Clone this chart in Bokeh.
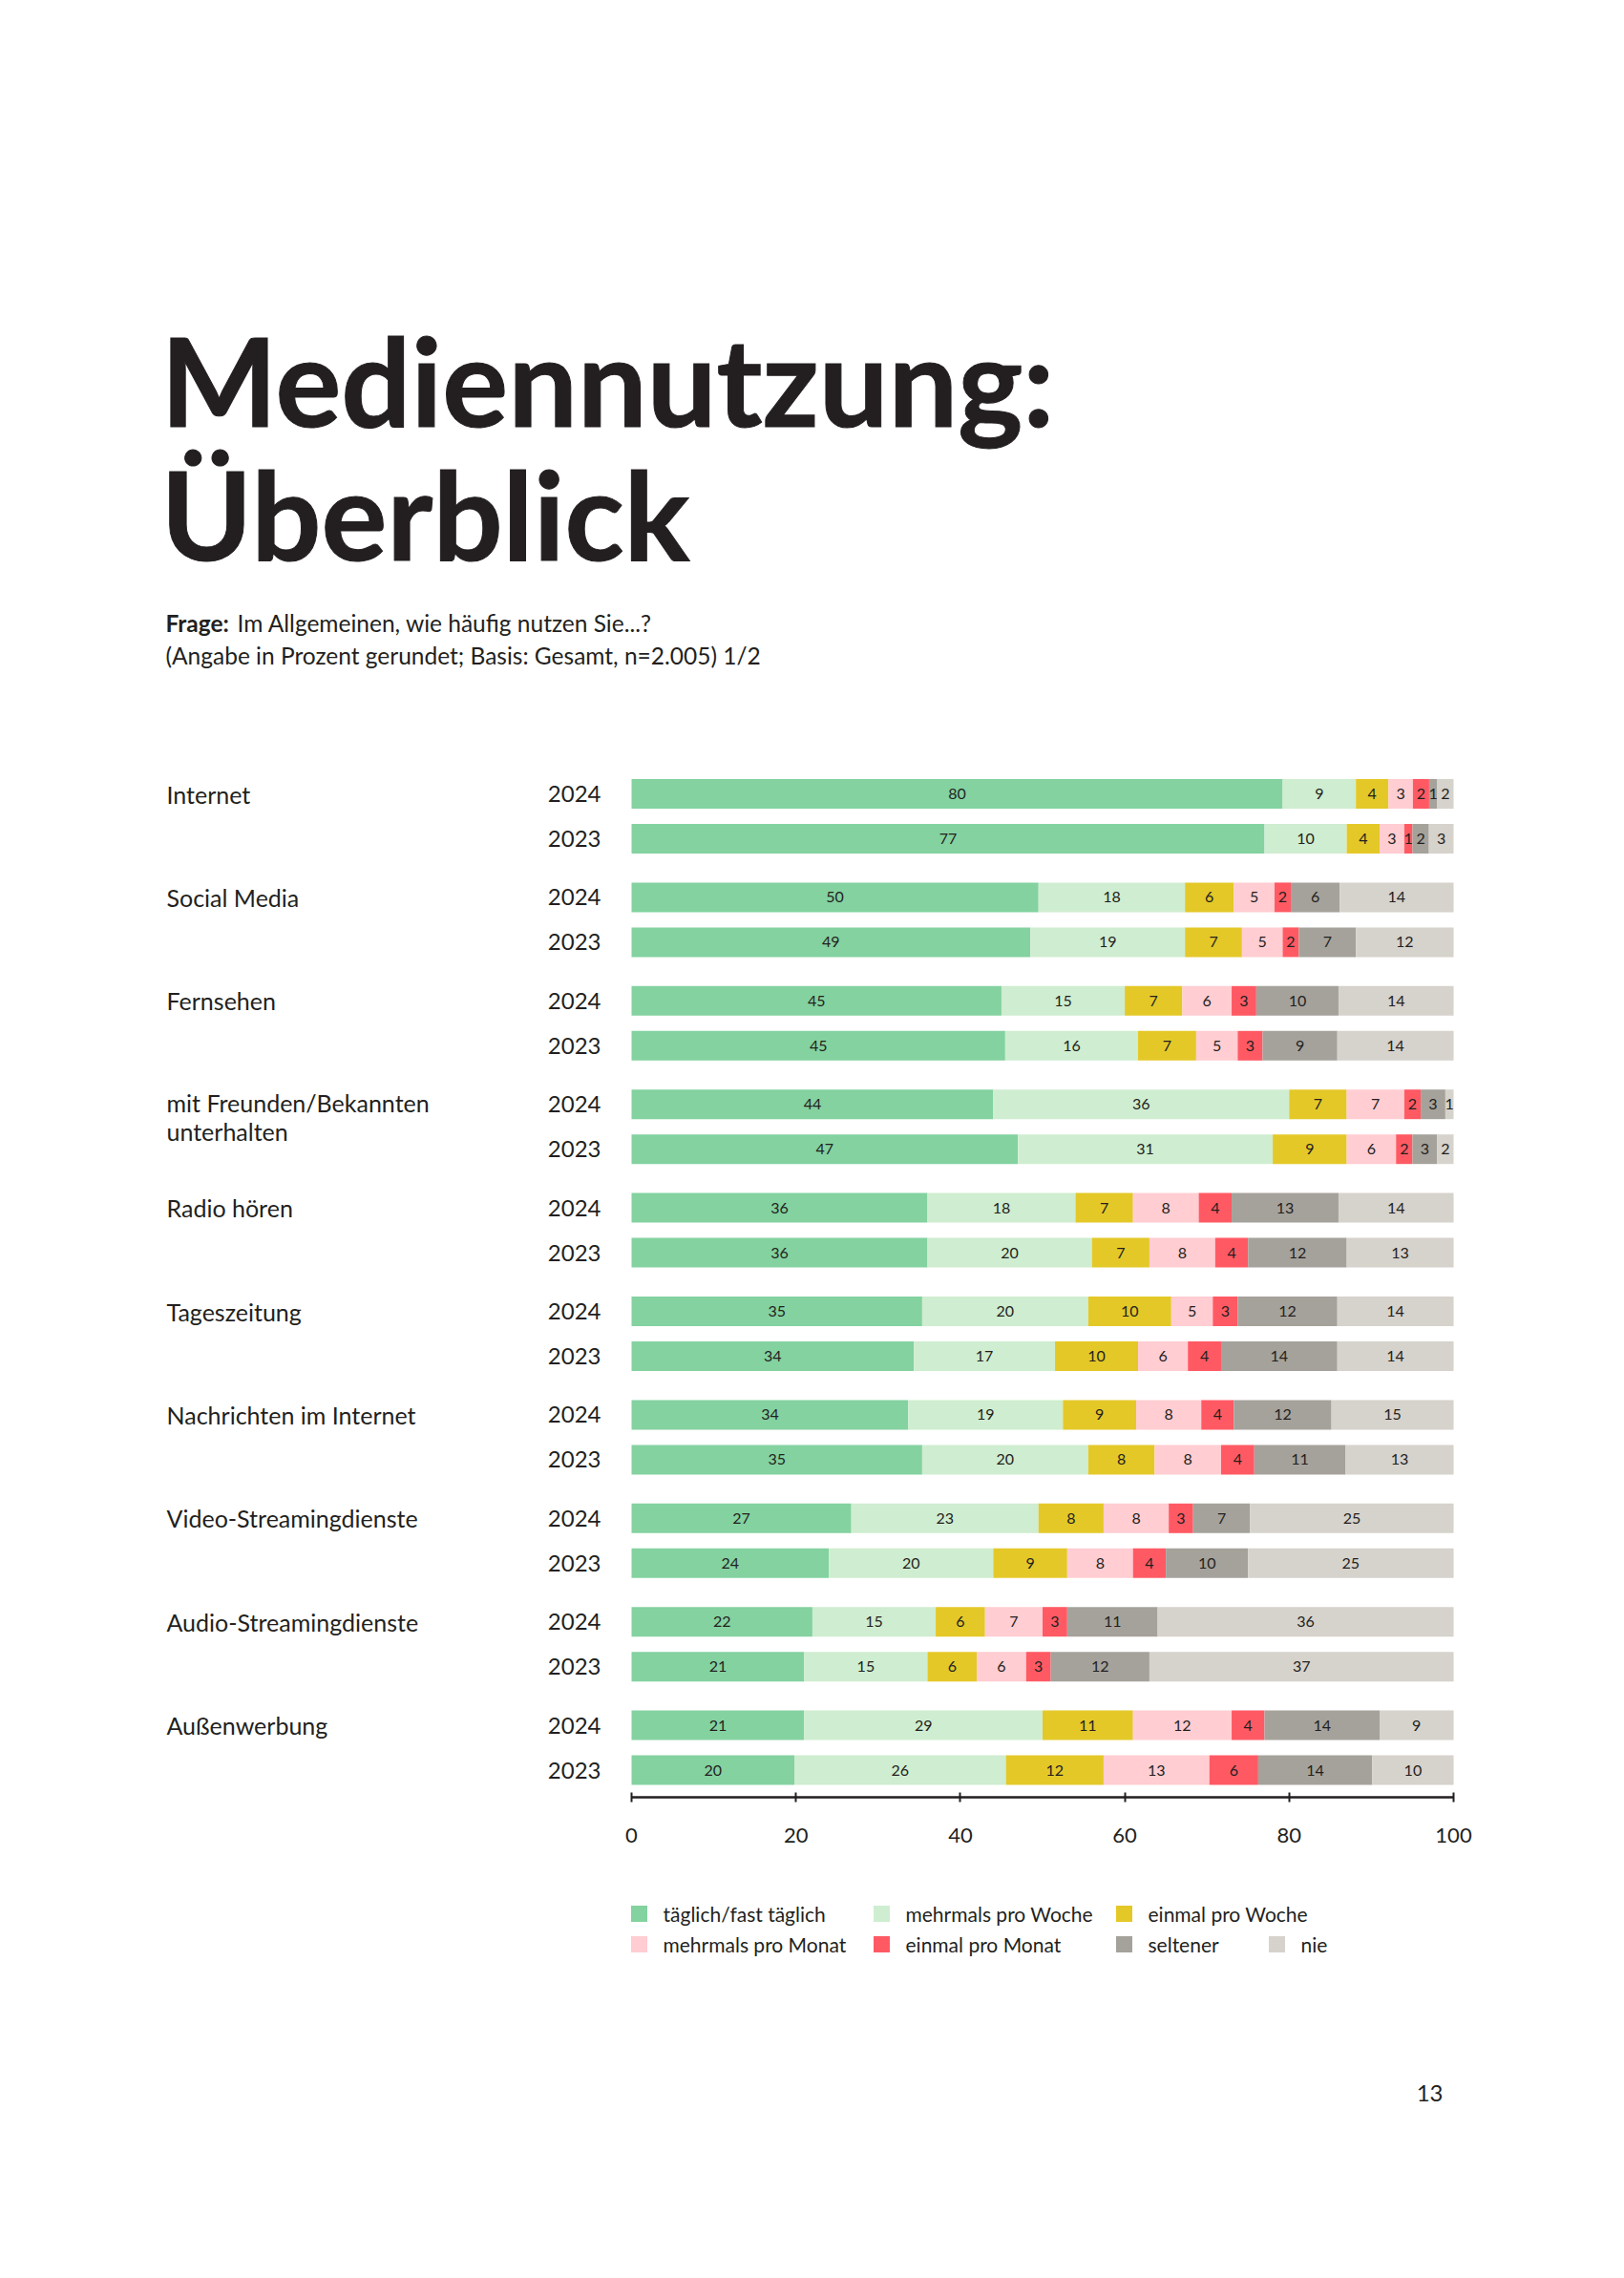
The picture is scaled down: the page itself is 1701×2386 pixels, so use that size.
from bokeh.plotting import figure
from bokeh.models import ColumnDataSource, Range1d, LinearAxis, FixedTicker
from bokeh.core.properties import value
from bokeh.embed import file_html
from bokeh.resources import INLINE

# ---------------- data ----------------
categories = ["Internet", "Social Media", "Fernsehen", "mit Freunden/Bekannten\nunterhalten",
              "Radio hören", "Tageszeitung", "Nachrichten im Internet",
              "Video-Streamingdienste", "Audio-Streamingdienste", "Außenwerbung"]
years = ["2024", "2023"]
series_names = ["täglich/fast täglich", "mehrmals pro Woche", "einmal pro Woche",
                "mehrmals pro Monat", "einmal pro Monat", "seltener", "nie"]
series_colors = ["#83D2A0", "#CFEDD0", "#E4C828", "#FFCDD2", "#FF5A64", "#A5A29B", "#D6D2CC"]

# values per series, ordered category by category, 2024 then 2023
taeglich       = [80, 77, 50, 49, 45, 45, 44, 47, 36, 36, 35, 34, 34, 35, 27, 24, 22, 21, 21, 20]
mehrmals_woche = [9, 10, 18, 19, 15, 16, 36, 31, 18, 20, 20, 17, 19, 20, 23, 20, 15, 15, 29, 26]
einmal_woche   = [4, 4, 6, 7, 7, 7, 7, 9, 7, 7, 10, 10, 9, 8, 8, 9, 6, 6, 11, 12]
mehrmals_monat = [3, 3, 5, 5, 6, 5, 7, 6, 8, 8, 5, 6, 8, 8, 8, 8, 7, 6, 12, 13]
einmal_monat   = [2, 1, 2, 2, 3, 3, 2, 2, 4, 4, 3, 4, 4, 4, 3, 4, 3, 3, 4, 6]
seltener       = [1, 2, 6, 7, 10, 9, 3, 3, 13, 12, 12, 14, 12, 11, 7, 10, 11, 12, 14, 14]
nie            = [2, 3, 14, 12, 14, 14, 1, 2, 14, 13, 14, 14, 15, 13, 25, 25, 36, 37, 9, 10]
series_values = [taeglich, mehrmals_woche, einmal_woche, mehrmals_monat, einmal_monat, seltener, nie]

x_ticks = [0, 20, 40, 60, 80, 100]

# ---------------- layout helpers (page pixels -> data) ----------------
FW, FH = 1685, 2300
X0_FIG = 661          # figure pixel of x = 0
PX_PER_UNIT = 8.61    # pixels per percent


def fx(page_x):
    return (page_x - 8 - X0_FIG) / PX_PER_UNIT


def fy(page_y):
    return page_y - 8


ROW0 = 839.0      # page y of first 2024 bar centre
GROUP_GAP = 108.4
YEAR_GAP = 47.0
BAR_H = 31

TXT = "#231f20"
FONT = value("Lato")

p = figure(frame_width=FW, frame_height=FH, output_backend="svg", toolbar_location=None,
           x_range=Range1d(fx(8), fx(8 + FW)), y_range=Range1d(FH, 0),
           x_axis_location=None, y_axis_location=None, min_border=0,
           outline_line_color=None, background_fill_color="white", border_fill_color="white")
p.xgrid.visible = False
p.ygrid.visible = False

# row positions
row_y = []
row_cat = []
row_year = []
for i, c in enumerate(categories):
    for j, yr in enumerate(years):
        row_y.append(fy(ROW0 + i * GROUP_GAP + j * YEAR_GAP))
        row_cat.append(c)
        row_year.append(yr)

n = len(row_y)
totals = [sum(s[k] for s in series_values) for k in range(n)]
left = [0.0] * n
lab_x, lab_y, lab_t = [], [], []
for name, col, vals in zip(series_names, series_colors, series_values):
    widths = [vals[k] * 100.0 / totals[k] for k in range(n)]
    right = [left[k] + widths[k] for k in range(n)]
    src = ColumnDataSource(dict(y=row_y, left=left, right=right))
    p.hbar(y="y", left="left", right="right", height=BAR_H, source=src,
           fill_color=col, line_color=None)
    for k in range(n):
        lab_x.append((left[k] + right[k]) / 2)
        lab_y.append(row_y[k])
        lab_t.append(str(vals[k]))
    left = right

p.text(x=lab_x, y=lab_y, text=lab_t, text_font=FONT, text_font_size="16px",
       text_color=TXT, text_align="center", text_baseline="middle")

# year labels
p.text(x=[fx(637)] * n, y=row_y, text=row_year, text_font=FONT, text_font_size="24px",
       text_color=TXT, text_align="right", text_baseline="middle")

# category labels
cx, cy, ct = [], [], []
for i, c in enumerate(categories):
    for li, line in enumerate(c.split("\n")):
        cx.append(fx(182))
        cy.append(row_y[2 * i] - 2 + li * 30 if "\n" in c else row_y[2 * i])
        ct.append(line)
p.text(x=cx, y=cy, text=ct, text_font=FONT, text_font_size="25px",
       text_color=TXT, text_align="left", text_baseline="middle")

# axis
ax = LinearAxis(fixed_location=fy(1890), bounds=(0, 100), ticker=FixedTicker(ticks=x_ticks),
                axis_line_width=2.5, axis_line_color=TXT, major_tick_line_color=TXT,
                major_tick_line_width=2, major_tick_in=5, major_tick_out=5,
                minor_tick_line_color=None, major_label_text_font="Lato",
                major_label_text_font_size="22px", major_label_text_color=TXT,
                major_label_standoff=27)
p.add_layout(ax, "below")

# title
p.text(x=[fx(176), fx(176)], y=[fy(404), fy(544)], text=["Mediennutzung:", "Überblick"],
       text_font=FONT, text_font_size="129px", text_font_style="bold", text_color=TXT,
       text_outline_color=TXT, text_align="left", text_baseline="alphabetic")

# subtitle
p.text(x=[fx(181)], y=[fy(660)], text=["Frage:"], text_font=FONT, text_font_size="24.5px",
       text_font_style="bold", text_color=TXT, text_align="left", text_baseline="middle")
p.text(x=[fx(256)], y=[fy(660)], text=["Im Allgemeinen, wie häufig nutzen Sie...?"],
       text_font=FONT, text_font_size="24.5px", text_color=TXT,
       text_align="left", text_baseline="middle")
p.text(x=[fx(181)], y=[fy(694)], text=["(Angabe in Prozent gerundet; Basis: Gesamt, n=2.005) 1/2"],
       text_font=FONT, text_font_size="24.5px", text_color=TXT,
       text_align="left", text_baseline="middle")

# legend (manual, row-wise)
leg_sq_x = [669, 923, 1177, 669, 923, 1177, 1337]
leg_row_y = [2012, 2012, 2012, 2044, 2044, 2044, 2044]
p.scatter(x=[fx(v + 8) for v in leg_sq_x], y=[fy(v) for v in leg_row_y], marker="square",
          size=17, fill_color=series_colors, line_color=None)
p.text(x=[fx(v + 33) for v in leg_sq_x], y=[fy(v) for v in leg_row_y], text=series_names,
       text_font=FONT, text_font_size="21px", text_color=TXT,
       text_align="left", text_baseline="middle")

# page number
p.text(x=[fx(1519)], y=[fy(2200)], text=["13"], text_font=FONT, text_font_size="24px",
       text_color=TXT, text_align="right", text_baseline="middle")

open("out.html", "w").write(file_html(p, INLINE))
